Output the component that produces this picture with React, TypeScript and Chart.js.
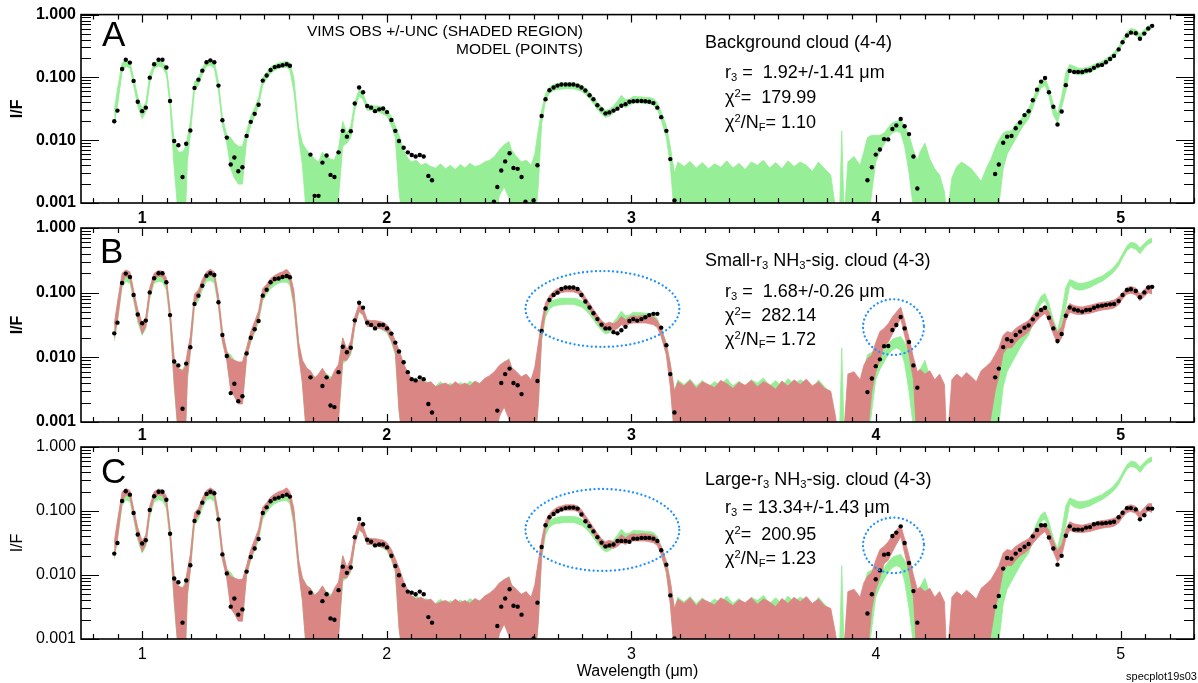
import React, { useEffect, useRef } from "react";
import { Chart, registerables } from "chart.js";

Chart.register(...registerables);

const FONT = '"Liberation Sans", Arial, Helvetica, sans-serif';
const W = 1198;
const H = 683;
const GREEN = "rgb(150, 238, 150)";
const RED = "rgb(218, 134, 132)";
const BLUE = "rgb(30, 144, 255)";

const X_MIN = 0.75;
const X_MAX = 5.3;
const X_TICKS = [1, 2, 3, 4, 5];
const Y_TICKS = [0.001, 0.01, 0.1, 1];

// ---- model points (wavelength, µm) ----
const DOT_WL = [
  0.886, 0.899, 0.918, 0.933, 0.95, 0.965, 0.982, 1.0, 1.015, 1.031,
  1.049, 1.067, 1.083, 1.099, 1.114, 1.131, 1.148, 1.165, 1.18, 1.197,
  1.214, 1.23, 1.246, 1.263, 1.279, 1.295, 1.312, 1.328, 1.346, 1.362,
  1.377, 1.393, 1.41, 1.427, 1.444, 1.46, 1.476, 1.493, 1.509, 1.525,
  1.542, 1.558, 1.574, 1.591, 1.604,
  1.688, 1.705, 1.721, 1.737, 1.754, 1.77, 1.786, 1.803, 1.82, 1.837,
  1.853, 1.869, 1.887, 1.903, 1.92, 1.936, 1.952, 1.969, 1.985, 2.001,
  2.019, 2.035, 2.05,
  2.069, 2.086, 2.102, 2.118, 2.135, 2.151, 2.17, 2.185,
  2.438, 2.452, 2.468, 2.484, 2.502, 2.518, 2.535, 2.551, 2.567,
  2.6, 2.616, 2.633, 2.649, 2.665, 2.682, 2.698, 2.714, 2.731, 2.747,
  2.763, 2.78, 2.796, 2.812, 2.829, 2.845, 2.861, 2.878, 2.894, 2.91,
  2.927, 2.943, 2.959, 2.976, 2.992, 3.008, 3.024, 3.041, 3.057, 3.073,
  3.09, 3.106, 3.122, 3.143, 3.159, 3.176,
  3.965, 3.983, 3.999, 4.016, 4.033, 4.05, 4.067, 4.083, 4.101, 4.117,
  4.135, 4.153, 4.169,
  4.487, 4.502, 4.52, 4.536, 4.554, 4.571, 4.589, 4.607, 4.624, 4.641,
  4.658, 4.675, 4.691, 4.707, 4.725, 4.742, 4.759, 4.776, 4.792, 4.81,
  4.826, 4.843, 4.859, 4.875, 4.891, 4.907, 4.924, 4.94, 4.957, 4.973,
  4.992, 5.008, 5.026, 5.042, 5.062, 5.079, 5.097, 5.113, 5.129,
];

const DOTS_A = [
  0.02, 0.0296, 0.136, 0.191, 0.172, 0.088, 0.041, 0.029, 0.033, 0.099,
  0.162, 0.191, 0.191, 0.144, 0.042, 0.0097, 0.0083, 0.0026, 0.0088, 0.0143,
  0.068, 0.092, 0.128, 0.174, 0.187, 0.174, 0.074, 0.0208, 0.011, 0.0041,
  0.0053, 0.0032, 0.0037, 0.0117, 0.0196, 0.0263, 0.0367, 0.089, 0.107, 0.131,
  0.146, 0.151, 0.156, 0.162, 0.153,
  0.0059, 0.0013, 0.0013, 0.0044, 0.0057, 0.0028, 0.0026, 0.0064, 0.0141, 0.0114,
  0.0139, 0.0385, 0.069, 0.058, 0.035, 0.033, 0.029, 0.031, 0.032, 0.028,
  0.021, 0.0141, 0.0097,
  0.0076, 0.0064, 0.0058, 0.0055, 0.0058, 0.0055, 0.0027, 0.0023,
  0.00105, 0.0018, 0.0033, 0.0046, 0.0062, 0.0036, 0.0035, 0.0026, 0.00105,
  0.0011, 0.004, 0.0243, 0.0448, 0.0624, 0.069, 0.074, 0.077, 0.077, 0.077,
  0.077, 0.074, 0.069, 0.062, 0.052, 0.045, 0.036, 0.031, 0.0267, 0.0277,
  0.0296, 0.0318, 0.0354, 0.0375, 0.041, 0.0417, 0.042, 0.042, 0.0417, 0.041,
  0.039, 0.033, 0.0233, 0.0141, 0.005, 0.0011,
  0.0023, 0.0037, 0.0059, 0.0071, 0.0104, 0.0103, 0.0151, 0.0172, 0.0218, 0.0167,
  0.0125, 0.0055, 0.0017,
  0.0029, 0.0041, 0.0091, 0.0114, 0.0117, 0.0155, 0.0191, 0.0251, 0.0289, 0.0432,
  0.0638, 0.0858, 0.0977, 0.058, 0.0341, 0.0178, 0.0286, 0.0753, 0.127, 0.122,
  0.122, 0.122, 0.128, 0.13, 0.142, 0.155, 0.158, 0.174, 0.196, 0.22,
  0.279, 0.362, 0.464, 0.516, 0.504, 0.412, 0.498, 0.602, 0.662,
];

const DOTS_B = [
  0.0235, 0.0344, 0.141, 0.197, 0.175, 0.092, 0.046, 0.0336, 0.037, 0.101,
  0.167, 0.2, 0.2, 0.145, 0.045, 0.0086, 0.0075, 0.0016, 0.008, 0.0143,
  0.067, 0.09, 0.128, 0.183, 0.2, 0.188, 0.071, 0.0221, 0.0105, 0.0028,
  0.0039, 0.0021, 0.0025, 0.0115, 0.0201, 0.0272, 0.0365, 0.09, 0.111, 0.145,
  0.163, 0.166, 0.175, 0.181, 0.173,
  0.0049, null, null, 0.0036, 0.0049, 0.0018, 0.0017, 0.0059, 0.0146, 0.012,
  0.0141, 0.0373, 0.07, 0.0587, 0.0344, 0.0316, 0.028, 0.0316, 0.0316, 0.028,
  0.0233, 0.0169, 0.0123,
  0.0084, 0.0059, 0.0046, 0.0044, 0.0049, 0.0046, 0.0019, 0.0014,
  null, 0.0015, 0.004, 0.0055, 0.0067, 0.004, 0.0037, 0.0027, null,
  null, 0.0043, 0.0255, 0.057, 0.077, 0.092, 0.1, 0.114, 0.12, 0.12,
  0.12, 0.114, 0.092, 0.073, 0.059, 0.048, 0.039, 0.032, 0.028, 0.028,
  0.0245, 0.0235, 0.0263, 0.0296, 0.0365, 0.039, 0.037, 0.039, 0.0417, 0.045,
  0.047, 0.047, 0.0288, 0.0154, 0.0055, 0.0014,
  0.0029, 0.0047, 0.0073, 0.0093, 0.0148, 0.015, 0.0265, 0.0316, 0.042, 0.028,
  0.0173, 0.0075, 0.0034,
  0.0049, 0.0067, 0.0144, 0.019, 0.0179, 0.0222, 0.025, 0.0288, 0.031, 0.0387,
  0.046, 0.054, 0.0586, 0.041, 0.028, 0.0179, 0.023, 0.044, 0.059, 0.055,
  0.053, 0.051, 0.054, 0.0545, 0.0586, 0.0616, 0.063, 0.0647, 0.066, 0.0669,
  0.074, 0.092, 0.11, 0.113, 0.106, 0.085, 0.101, 0.12, 0.123,
];

const DOTS_C = [
  0.0216, 0.0316, 0.143, 0.203, 0.18, 0.093, 0.043, 0.031, 0.035, 0.104,
  0.17, 0.2, 0.2, 0.15, 0.044, 0.0088, 0.0077, 0.0018, 0.0082, 0.0142,
  0.07, 0.095, 0.135, 0.185, 0.2, 0.189, 0.074, 0.021, 0.0106, 0.0032,
  0.0043, 0.0024, 0.0029, 0.0113, 0.0191, 0.026, 0.0365, 0.093, 0.114, 0.142,
  0.156, 0.162, 0.172, 0.18, 0.168,
  0.0053, null, null, 0.0039, 0.005, 0.0021, 0.002, 0.0058, 0.0135, 0.0108,
  0.0131, 0.0388, 0.075, 0.062, 0.0356, 0.033, 0.029, 0.03, 0.03, 0.027,
  0.02, 0.0138, 0.0099,
  0.0069, 0.0055, 0.0053, 0.005, 0.0055, 0.005, 0.0022, 0.0018,
  null, 0.0016, 0.0032, 0.0043, 0.006, 0.0033, 0.0032, 0.0024, null,
  0.00102, 0.0037, 0.0274, 0.06, 0.08, 0.09, 0.099, 0.106, 0.111, 0.113,
  0.113, 0.109, 0.088, 0.069, 0.058, 0.048, 0.039, 0.032, 0.028, 0.029,
  0.03, 0.034, 0.034, 0.034, 0.033, 0.037, 0.037, 0.038, 0.038, 0.038,
  0.037, 0.034, 0.0244, 0.0145, 0.0048, 0.00102,
  0.0025, 0.005, 0.0086, 0.0118, 0.0208, 0.0213, 0.0407, 0.046, 0.0576, 0.0316,
  0.0154, 0.0056, 0.0018,
  0.0032, 0.0047, 0.0126, 0.0184, 0.018, 0.0216, 0.0247, 0.0277, 0.0305, 0.0402,
  0.0505, 0.06, 0.06, 0.0385, 0.026, 0.0145, 0.0199, 0.041, 0.0576, 0.0512,
  0.0512, 0.0512, 0.055, 0.056, 0.062, 0.064, 0.064, 0.065, 0.066, 0.068,
  0.08, 0.094, 0.111, 0.111, 0.106, 0.074, 0.086, 0.109, 0.109,
];

// ---- observed I/F +/- uncertainty envelopes ----
const SHADE_WL = [
  0.886, 0.899, 0.918, 0.933, 0.95, 0.965, 0.982, 1.0, 1.015, 1.031,
  1.049, 1.067, 1.083, 1.099, 1.114, 1.131, 1.148, 1.165, 1.175, 1.185,
  1.197, 1.214, 1.23, 1.246, 1.263, 1.279, 1.295, 1.312, 1.328, 1.346,
  1.362, 1.377, 1.393, 1.41, 1.427, 1.444, 1.46, 1.476, 1.493, 1.509,
  1.525, 1.542, 1.558, 1.574, 1.591, 1.604, 1.62, 1.64, 1.655, 1.672,
  1.688, 1.705, 1.721, 1.737, 1.754, 1.77, 1.786, 1.803, 1.82, 1.837,
  1.853, 1.869, 1.887, 1.903, 1.92, 1.936, 1.952, 1.969, 1.985, 2.001,
  2.019, 2.035, 2.05, 2.069, 2.086, 2.1, 2.12, 2.14, 2.16, 2.18,
  2.2, 2.22, 2.24, 2.26, 2.28, 2.3, 2.32, 2.34, 2.36, 2.38,
  2.4, 2.42, 2.44, 2.46, 2.48, 2.5, 2.51, 2.53, 2.55, 2.57,
  2.59, 2.605, 2.62, 2.633, 2.649, 2.665, 2.682, 2.698, 2.714, 2.731,
  2.763, 2.78, 2.796, 2.812, 2.829, 2.845, 2.861, 2.878, 2.894, 2.91,
  2.927, 2.943, 2.959, 2.976, 2.992, 3.008, 3.024, 3.041, 3.057, 3.073,
  3.09, 3.106, 3.122, 3.143, 3.159, 3.176, 3.19, 3.215, 3.24, 3.265,
  3.29, 3.315, 3.34, 3.365, 3.39, 3.415, 3.44, 3.465, 3.49, 3.515,
  3.54, 3.565, 3.59, 3.615, 3.64, 3.665, 3.69, 3.715, 3.74, 3.765,
  3.79, 3.815, 3.835, 3.85, 3.86, 3.87, 3.885, 3.91, 3.935, 3.95,
  3.965, 3.983, 3.999, 4.016, 4.033, 4.05, 4.067, 4.083, 4.101, 4.117,
  4.135, 4.153, 4.169, 4.18, 4.2, 4.22, 4.24, 4.26, 4.28, 4.29,
  4.31, 4.33, 4.35, 4.37, 4.39, 4.41, 4.43, 4.45, 4.47, 4.487,
  4.502, 4.52, 4.536, 4.554, 4.571, 4.589, 4.607, 4.624, 4.641, 4.658,
  4.675, 4.691, 4.707, 4.725, 4.742, 4.759, 4.776, 4.792, 4.81, 4.826,
  4.843, 4.859, 4.875, 4.891, 4.907, 4.924, 4.94, 4.957, 4.973, 4.992,
  5.008, 5.026, 5.042, 5.062, 5.079, 5.097, 5.113, 5.129,
];

const GREEN_LO = [
  0.018, 0.035, 0.12, 0.15, 0.14, 0.075, 0.035, 0.022, 0.028, 0.08,
  0.14, 0.15, 0.145, 0.11, 0.035, 0.0035, 0.0006, 0.0004, 0.0004, 0.0045,
  0.012, 0.06, 0.075, 0.11, 0.15, 0.155, 0.14, 0.06, 0.017, 0.009,
  0.0035, 0.0025, 0.002, 0.002, 0.01, 0.017, 0.024, 0.035, 0.075, 0.095,
  0.115, 0.13, 0.14, 0.145, 0.145, 0.13, 0.06, 0.011, 0.004, 0.0006,
  0.0004, 0.0004, 0.0004, 0.0004, 0.0004, 0.0004, 0.0004, 0.0012, 0.008, 0.009,
  0.011, 0.03, 0.05, 0.045, 0.03, 0.03, 0.028, 0.028, 0.026, 0.024,
  0.017, 0.011, 0.0015, 0.0004, 0.0004, 0.0004, 0.0004, 0.0004, 0.0004, 0.0004,
  0.0004, 0.0004, 0.0004, 0.0004, 0.0004, 0.0004, 0.0004, 0.0004, 0.0004, 0.0004,
  0.0004, 0.0004, 0.0004, 0.0013, 0.0018, 0.0012, 0.0004, 0.0004, 0.0004, 0.0004,
  0.0004, 0.0004, 0.002, 0.018, 0.042, 0.056, 0.062, 0.064, 0.065, 0.066,
  0.066, 0.063, 0.06, 0.054, 0.046, 0.038, 0.031, 0.026, 0.023, 0.024,
  0.027, 0.031, 0.036, 0.033, 0.036, 0.039, 0.039, 0.039, 0.038, 0.038,
  0.036, 0.031, 0.021, 0.011, 0.004, 0.0006, 0.0004, 0.0004, 0.0004, 0.0004,
  0.0004, 0.0004, 0.0004, 0.0004, 0.0004, 0.0004, 0.0004, 0.0004, 0.0004, 0.0004,
  0.0004, 0.0004, 0.0004, 0.0004, 0.0004, 0.0004, 0.0004, 0.0004, 0.0004, 0.0004,
  0.0004, 0.0004, 0.0004, 0.0004, 0.0004, 0.0004, 0.0004, 0.0004, 0.0004, 0.0004,
  0.0004, 0.0015, 0.0045, 0.0065, 0.0085, 0.011, 0.013, 0.014, 0.013, 0.008,
  0.003, 0.0008, 0.0004, 0.0004, 0.0004, 0.0004, 0.0004, 0.0004, 0.0004, 0.0004,
  0.0004, 0.0004, 0.0004, 0.0004, 0.0004, 0.0004, 0.0004, 0.0004, 0.0004, 0.0004,
  0.0009, 0.0035, 0.006, 0.008, 0.0105, 0.014, 0.018, 0.022, 0.033, 0.05,
  0.068, 0.075, 0.05, 0.025, 0.019, 0.033, 0.06, 0.13, 0.115, 0.11,
  0.11, 0.115, 0.12, 0.13, 0.14, 0.15, 0.165, 0.185, 0.21, 0.26,
  0.34, 0.45, 0.5, 0.47, 0.4, 0.49, 0.56, 0.6,
];

const GREEN_HI = [
  0.03, 0.065, 0.17, 0.19, 0.18, 0.1, 0.05, 0.032, 0.04, 0.11,
  0.17, 0.18, 0.175, 0.15, 0.05, 0.0095, 0.0065, 0.0065, 0.0075, 0.011,
  0.02, 0.085, 0.1, 0.14, 0.185, 0.19, 0.18, 0.085, 0.024, 0.012,
  0.011, 0.009, 0.008, 0.008, 0.014, 0.024, 0.033, 0.048, 0.1, 0.12,
  0.145, 0.16, 0.17, 0.175, 0.18, 0.17, 0.1, 0.016, 0.009, 0.007,
  0.006, 0.005, 0.0045, 0.0065, 0.0055, 0.005, 0.0048, 0.0075, 0.02, 0.013,
  0.017, 0.04, 0.065, 0.055, 0.037, 0.036, 0.035, 0.035, 0.033, 0.03,
  0.024, 0.017, 0.012, 0.007, 0.0052, 0.0045, 0.0048, 0.004, 0.0043, 0.0038,
  0.0036, 0.0042, 0.0035, 0.004, 0.0034, 0.0041, 0.0036, 0.0043, 0.0038, 0.004,
  0.0045, 0.0048, 0.0055, 0.007, 0.0085, 0.0095, 0.007, 0.0055, 0.0045, 0.0048,
  0.004, 0.006, 0.015, 0.03, 0.055, 0.07, 0.077, 0.08, 0.082, 0.082,
  0.082, 0.08, 0.075, 0.068, 0.058, 0.048, 0.04, 0.034, 0.03, 0.031,
  0.035, 0.042, 0.052, 0.044, 0.045, 0.05, 0.049, 0.049, 0.048, 0.048,
  0.046, 0.04, 0.028, 0.017, 0.008, 0.003, 0.0045, 0.0038, 0.0046, 0.0036,
  0.0044, 0.0035, 0.0042, 0.0037, 0.0047, 0.0036, 0.0043, 0.0034, 0.0045, 0.004,
  0.0048, 0.0036, 0.0044, 0.0035, 0.0047, 0.0038, 0.0045, 0.004, 0.0032, 0.0045,
  0.0035, 0.0028, 0.0008, 0.0005, 0.014, 0.0006, 0.0045, 0.0055, 0.004, 0.0065,
  0.011, 0.012, 0.012, 0.012, 0.013, 0.016, 0.019, 0.02, 0.021, 0.017,
  0.012, 0.007, 0.0048, 0.0065, 0.009, 0.005, 0.0035, 0.0028, 0.0015, 0.0006,
  0.0025, 0.0038, 0.0045, 0.004, 0.0035, 0.0028, 0.0022, 0.0035, 0.005, 0.0075,
  0.01, 0.013, 0.014, 0.014, 0.018, 0.021, 0.026, 0.032, 0.045, 0.066,
  0.088, 0.097, 0.068, 0.038, 0.026, 0.05, 0.12, 0.16, 0.15, 0.14,
  0.14, 0.143, 0.15, 0.16, 0.17, 0.18, 0.2, 0.22, 0.25, 0.31,
  0.4, 0.53, 0.6, 0.58, 0.49, 0.58, 0.66, 0.7,
];

const RED_LO = [
  0.02, 0.037, 0.14, 0.18, 0.165, 0.085, 0.04, 0.023, 0.03, 0.09,
  0.16, 0.18, 0.175, 0.13, 0.04, 0.004, 0.0006, 0.0004, 0.0004, 0.005,
  0.012, 0.07, 0.085, 0.13, 0.17, 0.185, 0.17, 0.065, 0.018, 0.009,
  0.003, 0.0025, 0.0019, 0.0019, 0.01, 0.018, 0.026, 0.04, 0.085, 0.11,
  0.135, 0.15, 0.16, 0.17, 0.175, 0.15, 0.07, 0.011, 0.004, 0.0006,
  0.0004, 0.0004, 0.0004, 0.0004, 0.0004, 0.0004, 0.0004, 0.0011, 0.009, 0.009,
  0.012, 0.03, 0.052, 0.045, 0.03, 0.03, 0.029, 0.028, 0.027, 0.025,
  0.018, 0.012, 0.0015, 0.0004, 0.0004, 0.0004, 0.0004, 0.0004, 0.0004, 0.0004,
  0.0004, 0.0004, 0.0004, 0.0004, 0.0004, 0.0004, 0.0004, 0.0004, 0.0004, 0.0004,
  0.0004, 0.0004, 0.0004, 0.0012, 0.0017, 0.0011, 0.0004, 0.0004, 0.0004, 0.0004,
  0.0004, 0.0004, 0.002, 0.02, 0.052, 0.072, 0.087, 0.095, 0.1, 0.103,
  0.103, 0.098, 0.085, 0.07, 0.055, 0.044, 0.036, 0.029, 0.026, 0.027,
  0.026, 0.028, 0.032, 0.03, 0.033, 0.034, 0.034, 0.034, 0.034, 0.033,
  0.032, 0.029, 0.021, 0.011, 0.0035, 0.0006, 0.0004, 0.0004, 0.0004, 0.0004,
  0.0004, 0.0004, 0.0004, 0.0004, 0.0004, 0.0004, 0.0004, 0.0004, 0.0004, 0.0004,
  0.0004, 0.0004, 0.0004, 0.0004, 0.0004, 0.0004, 0.0004, 0.0004, 0.0004, 0.0004,
  0.0004, 0.0004, 0.0004, 0.0004, 0.0004, 0.0004, 0.0004, 0.0004, 0.0004, 0.0004,
  0.0006, 0.003, 0.006, 0.009, 0.015, 0.017, 0.023, 0.03, 0.04, 0.022,
  0.011, 0.0045, 0.0004, 0.0004, 0.0004, 0.0004, 0.0004, 0.0004, 0.0004, 0.0004,
  0.0004, 0.0004, 0.0004, 0.0004, 0.0004, 0.0004, 0.0004, 0.0004, 0.0012, 0.003,
  0.005, 0.0115, 0.014, 0.014, 0.017, 0.02, 0.022, 0.025, 0.031, 0.037,
  0.043, 0.048, 0.036, 0.023, 0.016, 0.02, 0.037, 0.05, 0.047, 0.046,
  0.046, 0.047, 0.048, 0.05, 0.052, 0.054, 0.055, 0.056, 0.058, 0.065,
  0.08, 0.095, 0.098, 0.092, 0.075, 0.088, 0.1, 0.095,
];

const RED_HI = [
  0.033, 0.07, 0.2, 0.225, 0.21, 0.11, 0.055, 0.034, 0.042, 0.12,
  0.2, 0.22, 0.215, 0.17, 0.055, 0.0095, 0.0068, 0.0062, 0.007, 0.012,
  0.021, 0.095, 0.11, 0.16, 0.21, 0.23, 0.21, 0.09, 0.026, 0.0125,
  0.0095, 0.009, 0.0085, 0.0085, 0.014, 0.025, 0.036, 0.052, 0.115, 0.135,
  0.165, 0.185, 0.2, 0.21, 0.23, 0.2, 0.11, 0.017, 0.009, 0.0068,
  0.0062, 0.0048, 0.0055, 0.0068, 0.0052, 0.0045, 0.0062, 0.0078, 0.02, 0.013,
  0.018, 0.042, 0.068, 0.058, 0.038, 0.037, 0.037, 0.036, 0.035, 0.032,
  0.025, 0.018, 0.013, 0.008, 0.0058, 0.0048, 0.0042, 0.0045, 0.004, 0.0042,
  0.0035, 0.0038, 0.004, 0.0036, 0.0042, 0.0037, 0.004, 0.0036, 0.0043, 0.0039,
  0.0047, 0.0052, 0.006, 0.0075, 0.0085, 0.0092, 0.007, 0.006, 0.005, 0.0055,
  0.0045, 0.007, 0.017, 0.035, 0.07, 0.09, 0.105, 0.115, 0.12, 0.125,
  0.125, 0.12, 0.105, 0.085, 0.068, 0.055, 0.045, 0.037, 0.033, 0.035,
  0.033, 0.036, 0.043, 0.038, 0.042, 0.044, 0.043, 0.044, 0.044, 0.043,
  0.042, 0.037, 0.028, 0.016, 0.008, 0.003, 0.0042, 0.0036, 0.0044, 0.0033,
  0.0042, 0.0038, 0.0034, 0.0044, 0.0039, 0.0033, 0.0041, 0.0037, 0.0044, 0.0035,
  0.0042, 0.0038, 0.0032, 0.0043, 0.0036, 0.0045, 0.0038, 0.0046, 0.0036, 0.0042,
  0.0033, 0.003, 0.0012, 0.0004, 0.0004, 0.0008, 0.0055, 0.006, 0.0045, 0.0075,
  0.0095, 0.011, 0.017, 0.025, 0.028, 0.033, 0.042, 0.05, 0.06, 0.037,
  0.02, 0.01, 0.006, 0.0065, 0.0055, 0.0062, 0.0045, 0.0055, 0.0038, 0.0004,
  0.0045, 0.0055, 0.0048, 0.0058, 0.005, 0.0042, 0.0062, 0.0072, 0.0085, 0.011,
  0.014, 0.022, 0.025, 0.024, 0.028, 0.031, 0.034, 0.037, 0.045, 0.052,
  0.058, 0.063, 0.05, 0.034, 0.024, 0.03, 0.052, 0.068, 0.063, 0.061,
  0.06, 0.062, 0.064, 0.066, 0.069, 0.071, 0.072, 0.074, 0.077, 0.085,
  0.1, 0.12, 0.125, 0.118, 0.095, 0.112, 0.13, 0.13,
];

// highlighted regions (dotted ellipses), in data units
const ELLIPSES_B = [
  { x0: 2.567, x1: 3.196, y0: 0.0145, y1: 0.216 },
  { x0: 3.947, x1: 4.196, y0: 0.0109, y1: 0.079 },
];
const ELLIPSES_C = [
  { x0: 2.567, x1: 3.196, y0: 0.0116, y1: 0.221 },
  { x0: 3.947, x1: 4.196, y0: 0.0107, y1: 0.0789 },
];

type Ell = { x0: number; x1: number; y0: number; y1: number };
type PanelCfg = {
  top: number;
  bottom: number;
  xHeight: number;
  bold: boolean;
  tickPad: number;
  dots: (number | null)[];
  showRed: boolean;
  ellipses: Ell[];
  xTitle: string | null;
};

const PANELS: PanelCfg[] = [
  { top: 9, bottom: 203, xHeight: 24, bold: true, tickPad: 5.5, dots: DOTS_A, showRed: false, ellipses: [], xTitle: null },
  { top: 228, bottom: 422, xHeight: 24, bold: true, tickPad: 4, dots: DOTS_B, showRed: true, ellipses: ELLIPSES_B, xTitle: null },
  { top: 447, bottom: 639, xHeight: 44, bold: false, tickPad: 6, dots: DOTS_C, showRed: true, ellipses: ELLIPSES_C, xTitle: "Wavelength (\u03bcm)" },
];

const pts = (xs: number[], ys: (number | null)[]) =>
  xs.map((x, i) => ({ x, y: ys[i] === undefined ? null : ys[i] }));

const framePlugin = {
  id: "frame",
  afterDatasetsDraw(chart: any, _args: any, opts: any) {
    const { ctx, chartArea: a, scales } = chart;
    const xs = scales.x;
    const ys = scales.y;
    ctx.save();
    // dotted ellipses
    ctx.strokeStyle = BLUE;
    ctx.lineWidth = 2.3;
    ctx.lineCap = "round";
    ctx.setLineDash([0.01, 4.3]);
    for (const e of (opts && opts.ellipses) || []) {
      const px0 = xs.getPixelForValue(e.x0);
      const px1 = xs.getPixelForValue(e.x1);
      const pyTop = ys.getPixelForValue(e.y1);
      const pyBot = ys.getPixelForValue(e.y0);
      ctx.beginPath();
      ctx.ellipse((px0 + px1) / 2, (pyTop + pyBot) / 2, (px1 - px0) / 2, (pyBot - pyTop) / 2, 0, 0, Math.PI * 2);
      ctx.stroke();
    }
    ctx.setLineDash([]);
    ctx.lineCap = "butt";
    // tick marks (inward, all four sides)
    ctx.strokeStyle = "#000";
    ctx.lineWidth = 1.2;
    ctx.beginPath();
    for (let k = 8; k <= 53; k++) {
      const v = k / 10;
      const px = Math.round(xs.getPixelForValue(v)) + 0.5;
      const len = k % 10 === 0 ? 8 : 5;
      ctx.moveTo(px, a.bottom);
      ctx.lineTo(px, a.bottom - len);
      ctx.moveTo(px, a.top);
      ctx.lineTo(px, a.top + len);
    }
    for (let e = -3; e <= 0; e++) {
      for (let m = 1; m <= 9; m++) {
        const v = m * Math.pow(10, e);
        if (v > 1.0001) break;
        const py = Math.round(ys.getPixelForValue(v)) + 0.5;
        const len = m === 1 ? 18 : 10;
        ctx.moveTo(a.left, py);
        ctx.lineTo(a.left + len, py);
        ctx.moveTo(a.right, py);
        ctx.lineTo(a.right - len, py);
      }
    }
    ctx.stroke();
    // frame
    ctx.lineWidth = 1.6;
    ctx.strokeRect(a.left, a.top, a.right - a.left, a.bottom - a.top);
    ctx.restore();
  },
};

function buildConfig(cfg: PanelCfg): any {
  const datasets: any[] = [
    {
      data: pts(DOT_WL, cfg.dots),
      showLine: false,
      pointRadius: 2.2,
      pointBackgroundColor: "#000",
      pointBorderWidth: 0,
      borderColor: "#000",
      fill: false,
    },
  ];
  if (cfg.showRed) {
    const loIdx = datasets.length;
    datasets.push({ data: pts(SHADE_WL, RED_LO), borderColor: RED, borderWidth: 0.8, pointRadius: 0, fill: false });
    datasets.push({ data: pts(SHADE_WL, RED_HI), borderColor: RED, borderWidth: 0.8, pointRadius: 0, backgroundColor: RED, fill: loIdx });
  }
  const gIdx = datasets.length;
  datasets.push({ data: pts(SHADE_WL, GREEN_LO), borderColor: GREEN, borderWidth: 0.8, pointRadius: 0, fill: false });
  datasets.push({ data: pts(SHADE_WL, GREEN_HI), borderColor: GREEN, borderWidth: 0.8, pointRadius: 0, backgroundColor: GREEN, fill: gIdx });

  const weight = cfg.bold ? "bold" : "normal";
  return {
    type: "line",
    data: { datasets },
    options: {
      animation: false,
      responsive: false,
      devicePixelRatio: 1,
      events: [],
      layout: { padding: { left: 0, right: W - 1197, top: cfg.top, bottom: H - cfg.bottom - cfg.xHeight } },
      plugins: { legend: { display: false }, tooltip: { enabled: false }, frame: { ellipses: cfg.ellipses } },
      scales: {
        x: {
          type: "linear",
          position: "bottom",
          min: X_MIN,
          max: X_MAX,
          grid: { display: false, drawTicks: false, tickLength: 0 },
          border: { display: false },
          ticks: {
            color: "#000",
            font: { family: FONT, size: 16, weight },
            padding: cfg.tickPad,
            maxRotation: 0,
            autoSkip: false,
            callback: (v: any) => String(v),
          },
          afterBuildTicks: (s: any) => {
            s.ticks = X_TICKS.map((v) => ({ value: v }));
          },
          afterFit: (s: any) => {
            s.height = cfg.xHeight;
          },
          title: cfg.xTitle
            ? { display: true, text: cfg.xTitle, color: "#000", font: { family: FONT, size: 16 }, padding: { top: 0, bottom: 1.5 } }
            : { display: false },
        },
        y: {
          type: "logarithmic",
          position: "left",
          min: 0.001,
          max: 1,
          grid: { display: false, drawTicks: false, tickLength: 0 },
          border: { display: false },
          ticks: {
            color: "#000",
            font: { family: FONT, size: 16, weight },
            padding: 5,
            autoSkip: false,
            callback: (v: any) => Number(v).toFixed(3),
          },
          afterBuildTicks: (s: any) => {
            s.ticks = Y_TICKS.map((v) => ({ value: v }));
          },
          afterFit: (s: any) => {
            s.width = 81;
          },
          title: { display: true, text: "I/F", color: "#000", font: { family: FONT, size: 16, weight }, padding: { top: 8, bottom: 0 } },
        },
      },
    },
    plugins: [framePlugin],
  };
}

function Panel({ cfg }: { cfg: PanelCfg }) {
  const ref = useRef<HTMLCanvasElement | null>(null);
  useEffect(() => {
    if (!ref.current) return;
    const chart = new Chart(ref.current, buildConfig(cfg));
    return () => chart.destroy();
  }, [cfg]);
  return (
    <canvas
      ref={ref}
      width={W}
      height={H}
      style={{ position: "absolute", left: 0, top: 0, width: W, height: H }}
    />
  );
}

const Sub = ({ c }: { c: string }) => (
  <span style={{ fontSize: "0.62em", position: "relative", top: "0.32em" }}>{c}</span>
);
const Sup = ({ c }: { c: string }) => (
  <span style={{ fontSize: "0.62em", position: "relative", top: "-0.55em" }}>{c}</span>
);

function T({ x, right, base, size, children }: { x?: number; right?: number; base: number; size: number; children: any }) {
  const style: any = {
    position: "absolute",
    top: base - size * 0.8465,
    fontSize: size,
    lineHeight: `${size}px`,
    whiteSpace: "pre",
    fontFamily: FONT,
    color: "#000",
  };
  if (right !== undefined) {
    style.right = W - right;
    style.textAlign = "right";
  } else {
    style.left = x;
  }
  return <div style={style}>{children}</div>;
}

export default function App() {
  return (
    <div style={{ position: "absolute", left: 0, top: 0, width: W, height: H, background: "#fff", overflow: "hidden" }}>
      {PANELS.map((p, i) => (
        <Panel key={i} cfg={p} />
      ))}
      {/* panel letters */}
      <T x={102} base={46} size={35}>A</T>
      <T x={100} base={263} size={35}>B</T>
      <T x={101} base={483} size={35}>C</T>

      {/* legend notes */}
      <T right={583} base={36} size={15.5}>VIMS OBS +/-UNC (SHADED REGION)</T>
      <T right={583} base={54} size={15.5}>MODEL (POINTS)</T>

      {/* panel A */}
      <T x={705} base={48} size={18}>Background cloud (4-4)</T>
      <T x={725} base={78} size={18}>r<Sub c="3" /> =  1.92+/-1.41 {"\u03bc"}m</T>
      <T x={725} base={103} size={18}>{"\u03c7"}<Sup c="2" />=  179.99</T>
      <T x={725} base={128} size={18}>{"\u03c7"}<Sup c="2" />/N<Sub c="F" />= 1.10</T>

      {/* panel B */}
      <T x={705} base={266} size={18}>Small-r<Sub c="3" /> NH<Sub c="3" />-sig. cloud (4-3)</T>
      <T x={725} base={297} size={18}>r<Sub c="3" /> =  1.68+/-0.26 {"\u03bc"}m</T>
      <T x={725} base={321} size={18}>{"\u03c7"}<Sup c="2" />=  282.14</T>
      <T x={725} base={345} size={18}>{"\u03c7"}<Sup c="2" />/N<Sub c="F" />= 1.72</T>

      {/* panel C */}
      <T x={705} base={485} size={18}>Large-r<Sub c="3" /> NH<Sub c="3" />-sig. cloud (4-3)</T>
      <T x={725} base={513} size={18}>r<Sub c="3" /> = 13.34+/-1.43 {"\u03bc"}m</T>
      <T x={725} base={540} size={18}>{"\u03c7"}<Sup c="2" />=  200.95</T>
      <T x={725} base={564} size={18}>{"\u03c7"}<Sup c="2" />/N<Sub c="F" />= 1.23</T>

      <T right={1197} base={680} size={11}>specplot19s03</T>
    </div>
  );
}
